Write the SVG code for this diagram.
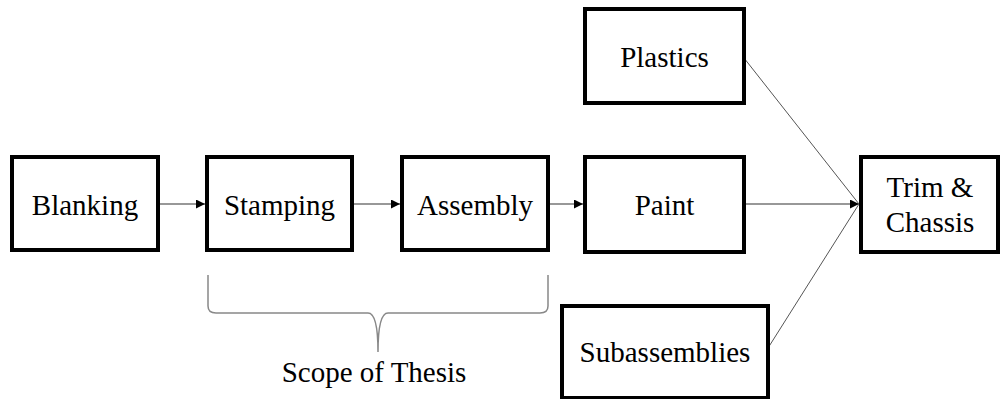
<svg xmlns="http://www.w3.org/2000/svg" width="1000" height="399" viewBox="0 0 1000 399">
  <style>
    .box { fill: #fff; stroke: #000; stroke-width: 4; }
    .lbl { font-family: "Liberation Serif", "Times New Roman", serif; font-size: 29px; fill: #000; text-anchor: middle; }
    .conn { stroke: #333; stroke-width: 1.2; fill: none; }
    .thin { stroke: #555; stroke-width: 1; fill: none; }
    .brace { stroke: #888; stroke-width: 1.5; fill: none; }
  </style>
  <defs>
    <marker id="arrow" viewBox="0 0 10 10" refX="10" refY="5" markerWidth="9" markerHeight="9" markerUnits="userSpaceOnUse" orient="auto">
      <path d="M0,0 L10,5 L0,10 z" fill="#000"/>
    </marker>
  </defs>

  <g id="connectors">
    <line class="conn" x1="158" y1="204" x2="205" y2="204" marker-end="url(#arrow)"/>
    <line class="conn" x1="352" y1="204" x2="400" y2="204" marker-end="url(#arrow)"/>
    <line class="conn" x1="548" y1="204" x2="583" y2="204" marker-end="url(#arrow)"/>
    <line class="conn" x1="744" y1="204" x2="859" y2="204" marker-end="url(#arrow)"/>
    <line class="thin" x1="744" y1="58" x2="859" y2="204"/>
    <line class="thin" x1="768" y1="348" x2="859" y2="204"/>
  </g>

  <g id="node-blanking">
    <rect class="box" x="12" y="157" width="146" height="93"/>
    <text class="lbl" x="85" y="215">Blanking</text>
  </g>
  <g id="node-stamping">
    <rect class="box" x="207" y="157" width="145" height="93"/>
    <text class="lbl" x="279.5" y="215">Stamping</text>
  </g>
  <g id="node-assembly">
    <rect class="box" x="402" y="157" width="146" height="93"/>
    <text class="lbl" x="475" y="215">Assembly</text>
  </g>
  <g id="node-paint">
    <rect class="box" x="585" y="157" width="159" height="95"/>
    <text class="lbl" x="664.5" y="215">Paint</text>
  </g>
  <g id="node-plastics">
    <rect class="box" x="585" y="9" width="159" height="94"/>
    <text class="lbl" x="664.5" y="67">Plastics</text>
  </g>
  <g id="node-subassemblies">
    <rect class="box" x="562" y="306" width="206" height="92"/>
    <text class="lbl" x="665" y="362">Subassemblies</text>
  </g>
  <g id="node-trim-chassis">
    <rect class="box" x="861" y="157" width="137" height="95"/>
    <text class="lbl" x="930" y="197">Trim &amp;</text>
    <text class="lbl" x="930" y="232">Chassis</text>
  </g>

  <g id="scope">
    <path class="brace" d="M208,275 L208,306 Q208,313 216,313 L368,313 Q378,313 378,352 Q378,313 388,313 L540,313 Q548,313 548,306 L548,275"/>
    <text class="lbl" x="374" y="382">Scope of Thesis</text>
  </g>
</svg>
